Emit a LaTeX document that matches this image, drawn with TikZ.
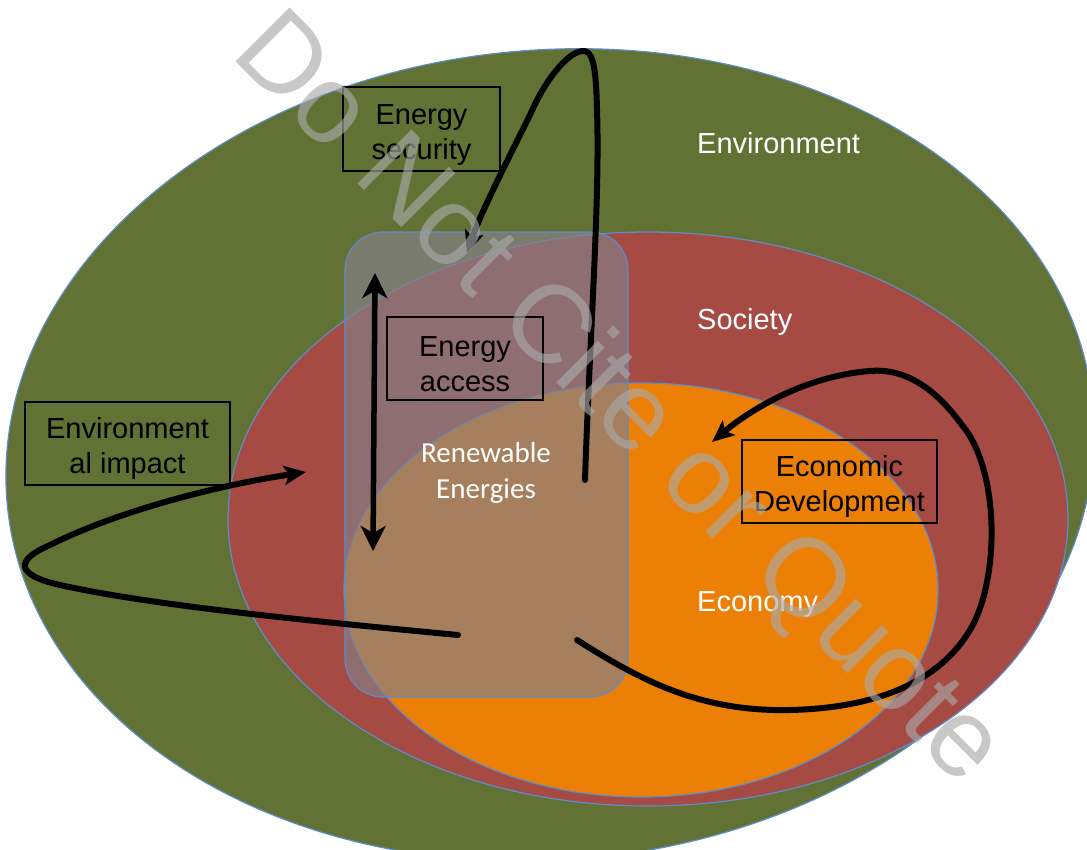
\documentclass[tikz,border=0pt]{standalone}
\usepackage{fontspec}
\setmainfont{Liberation Sans}
\newfontfamily\calibrifont{Carlito}
\usetikzlibrary{arrows.meta}

\definecolor{envgreen}{RGB}{97,114,52}
\definecolor{socred}{RGB}{166,75,68}
\definecolor{ecoorange}{RGB}{236,128,6}
\definecolor{edgeblue}{RGB}{95,140,200}
\definecolor{renewgray}{RGB}{133,128,136}
\definecolor{markgray}{RGB}{169,169,169}

% invisible strut that lowers the two-line box texts a little
\newcommand{\boxstrut}{\rule{0pt}{32pt}}

\tikzset{
  sphere/.style={draw=edgeblue, line width=1.2pt},
  renewbox/.style={draw=edgeblue, line width=1.2pt, fill=renewgray, fill opacity=0.68,
    rounded corners=38pt, inner sep=0pt},
  infobox/.style={draw=black, line width=2.8pt, align=center, inner sep=0pt,
    font=\fontsize{29}{35}\selectfont},
  sphlabel/.style={text=white, anchor=base west, inner sep=0pt,
    font=\fontsize{29}{35}\selectfont},
  flow/.style={line width=6pt, line cap=round,
    -{Stealth[length=22pt,width=19pt,inset=5pt]}},
  twoway/.style={line width=5.5pt,
    {Stealth[length=25pt,width=25pt,inset=7pt]}-{Stealth[length=25pt,width=25pt,inset=7pt]}},
  watermark/.style={text=markgray, text opacity=0.64, rotate=-45, anchor=base west,
    inner sep=0pt, font=\fontsize{111}{111}\selectfont}
}

\begin{document}
\begin{tikzpicture}[x=1pt, y=-1pt]
\useasboundingbox (0,0) rectangle (1087,850);

% nested spheres: environment, society, economy
\draw[sphere, fill=envgreen, rotate around={5:(550,455)}]
  (550,455) ellipse [x radius=545, y radius=405];
\draw[sphere, fill=socred] (648,519) ellipse [x radius=420, y radius=287];
\draw[sphere, fill=ecoorange] (641,590) ellipse [x radius=297, y radius=207];

% renewable energies band
\node[renewbox, minimum width=283pt, minimum height=465pt] (renew) at (486.5,464.5) {};
\node[text=white, align=center, font=\calibrifont\fontsize{29}{36}\selectfont]
  (renewtxt) at (486,473) {Renewable\\Energies};

% sphere labels
\node[sphlabel] (envlbl) at (697,154) {Environment};
\node[sphlabel] (soclbl) at (697,330) {Society};
\node[sphlabel] (ecolbl) at (697,611) {Economy};

% issue boxes
\node[infobox, minimum width=157pt, minimum height=84pt] (security) at (421.5,129) {\boxstrut Energy\\security};
\node[infobox, minimum width=156pt, minimum height=83pt] (access) at (465,358.5) {\boxstrut Energy\\access};
\node[infobox, minimum width=205pt, minimum height=83pt] (impact) at (127.5,443.5) {\boxstrut Environment\\al impact};
\node[infobox, minimum width=195pt, minimum height=83pt] (econdev) at (839.5,481.5) {\boxstrut Economic\\Development};

% connector end points
\coordinate (secFrom) at (585,480);
\coordinate (secTo) at (467,253);
\coordinate (accTop) at (375,273);
\coordinate (accBot) at (373,551);
\coordinate (impFrom) at (458,635);
\coordinate (impTo) at (306,472);
\coordinate (devFrom) at (577,640);
\coordinate (devTo) at (712,442);

% loops
\draw[flow] (secFrom) .. controls (590,330) and (600,200) .. (597,110)
  .. controls (596,62) and (592,50) .. (582,51)
  .. controls (567,53) and (545,80) .. (530,115)
  .. controls (505,165) and (480,215) .. (secTo);
\draw[twoway] (accBot) -- (accTop);
\draw[flow] (impFrom) .. controls (300,620) and (150,605) .. (60,585)
  .. controls (15,575) and (15,560) .. (50,545)
  .. controls (120,510) and (220,485) .. (impTo);
\draw[flow] (devFrom) .. controls (640,680) and (700,712) .. (790,710)
  .. controls (880,708) and (940,680) .. (970,630)
  .. controls (1000,580) and (1000,470) .. (962,425)
  .. controls (935,388) and (905,368) .. (870,371)
  .. controls (805,376) and (750,410) .. (devTo);

% overprint
\node[watermark] (wm) at (229,55) {Do Not Cite or Quote};
\end{tikzpicture}
\end{document}
